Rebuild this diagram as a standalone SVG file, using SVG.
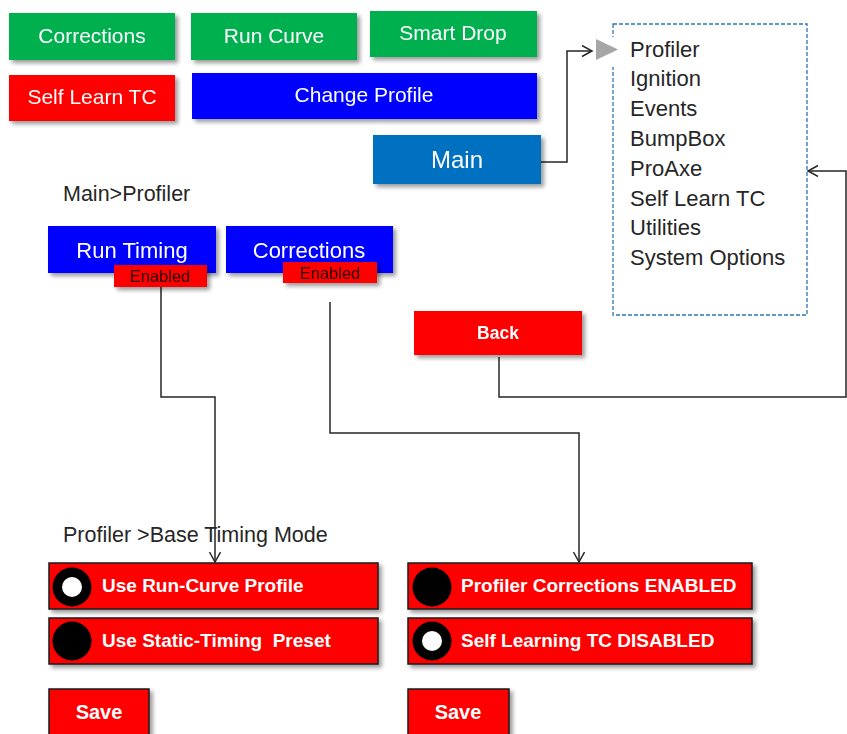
<svg xmlns="http://www.w3.org/2000/svg" width="847" height="734" viewBox="0 0 847 734">
<defs>
<filter id="sh" x="-10%" y="-20%" width="130%" height="160%">
<feDropShadow dx="3" dy="3" stdDeviation="2" flood-color="#000" flood-opacity="0.4"/>
</filter>
<marker id="arr" markerUnits="userSpaceOnUse" markerWidth="14" markerHeight="14" refX="11" refY="6" orient="auto">
<path d="M1,0.5 L11,6 L1,11.5" fill="none" stroke="#262626" stroke-width="1.5"/>
</marker>
<style>
text{font-family:"Liberation Sans",Arial,sans-serif;}
.btn{filter:url(#sh);}
.w{fill:#fff;font-size:21px;text-anchor:middle;}
.menu{fill:#262626;font-size:22px;}
.lbl{fill:#262626;font-size:21.5px;}
.row{fill:#FF0000;stroke:#1a1a1a;stroke-width:1.5;filter:url(#sh);}
.rt{fill:#fff;font-size:19px;font-weight:bold;}
.sv{fill:#fff;font-size:20px;font-weight:bold;text-anchor:middle;}
.en{fill:#2a0000;font-size:16.5px;text-anchor:middle;}
.con{fill:none;stroke:#262626;stroke-width:1.5;}
</style>
</defs>
<rect width="847" height="734" fill="#fff"/>

<g id="connectors">
<polyline class="con" points="541,162 567,162 567,51 592,51" marker-end="url(#arr)"/>
<polyline class="con" points="161,287 161,397 215,397 215,562" marker-end="url(#arr)"/>
<polyline class="con" points="330,302 330,433 579,433 579,562" marker-end="url(#arr)"/>
<polyline class="con" points="499,357 499,397 846,397 846,171 808,171" marker-end="url(#arr)"/>
</g>

<g id="btn-corrections-top" class="btn"><rect x="9" y="13" width="166" height="47" fill="#00B050"/><text class="w" x="92" y="43">Corrections</text></g>
<g id="btn-run-curve" class="btn"><rect x="191" y="13" width="166" height="47" fill="#00B050"/><text class="w" x="274" y="43">Run Curve</text></g>
<g id="btn-smart-drop" class="btn"><rect x="370" y="11" width="167" height="46" fill="#00B050"/><text class="w" x="453" y="40">Smart Drop</text></g>
<g id="btn-self-learn" class="btn"><rect x="9" y="75" width="166" height="46" fill="#FF0000"/><text class="w" x="92" y="104">Self Learn TC</text></g>
<g id="btn-change-profile" class="btn"><rect x="192" y="73" width="345" height="46" fill="#0000FF"/><text class="w" x="364" y="102">Change Profile</text></g>
<g id="btn-main" class="btn"><rect x="373" y="135" width="168" height="49" fill="#0070C0"/><text class="w" x="457" y="168" style="font-size:24px">Main</text></g>

<g id="menu">
<rect x="613" y="24" width="194" height="291" fill="none" stroke="#2E75B6" stroke-width="1.3" stroke-dasharray="4,2"/>
<rect x="606" y="37" width="14" height="30" fill="#fff"/>
<polygon points="596,39 618,49.5 596,60" fill="#A6A6A6"/>
<text class="menu" x="630" y="56.5">Profiler</text>
<text class="menu" x="630" y="86.3">Ignition</text>
<text class="menu" x="630" y="116.1">Events</text>
<text class="menu" x="630" y="145.9">BumpBox</text>
<text class="menu" x="630" y="175.7">ProAxe</text>
<text class="menu" x="630" y="205.5">Self Learn TC</text>
<text class="menu" x="630" y="235.3">Utilities</text>
<text class="menu" x="630" y="265.1">System Options</text>
</g>

<text id="title-main-profiler" class="lbl" x="63" y="201">Main&gt;Profiler</text>

<g id="btn-run-timing" class="btn"><rect x="48" y="226" width="168" height="47" fill="#0000FF"/><text class="w" x="132" y="258" style="font-size:22px">Run Timing</text></g>
<g id="btn-corrections" class="btn"><rect x="226" y="226" width="167" height="47" fill="#0000FF"/><text class="w" x="309" y="258" style="font-size:22px">Corrections</text></g>
<g id="tag-enabled-1" class="btn"><rect x="114" y="265" width="93" height="22" fill="#FF0000"/><text class="en" x="160" y="282">Enabled</text></g>
<g id="tag-enabled-2" class="btn"><rect x="283" y="262" width="94" height="21" fill="#FF0000"/><text class="en" x="330" y="278.5">Enabled</text></g>

<g id="btn-back" class="btn"><rect x="414" y="311" width="168" height="44" fill="#FF0000"/><text class="sv" x="498" y="339" style="font-size:17.5px">Back</text></g>

<text id="title-base-timing" class="lbl" x="63" y="542">Profiler &gt;Base Timing Mode</text>

<g id="opt-run-curve"><rect class="row" x="49" y="563" width="329" height="46"/><circle cx="72" cy="587" r="19.5" fill="#000"/><circle cx="72" cy="587" r="10" fill="#fff"/><text class="rt" x="102" y="592">Use Run-Curve Profile</text></g>
<g id="opt-static"><rect class="row" x="49" y="618" width="329" height="46"/><circle cx="72" cy="641" r="19.5" fill="#000"/><text class="rt" x="102" y="647" xml:space="preserve">Use Static-Timing  Preset</text></g>
<g id="save-left"><rect class="row" x="49" y="689" width="100" height="55"/><text class="sv" x="99" y="719">Save</text></g>

<g id="opt-corrections"><rect class="row" x="408" y="563" width="344" height="46"/><circle cx="432" cy="587" r="19.5" fill="#000"/><text class="rt" x="461" y="592">Profiler Corrections ENABLED</text></g>
<g id="opt-self-learning"><rect class="row" x="408" y="618" width="344" height="46"/><circle cx="432" cy="641" r="19.5" fill="#000"/><circle cx="432" cy="641" r="10" fill="#fff"/><text class="rt" x="461" y="647">Self Learning TC DISABLED</text></g>
<g id="save-right"><rect class="row" x="408" y="689" width="101" height="55"/><text class="sv" x="458" y="719">Save</text></g>
</svg>
